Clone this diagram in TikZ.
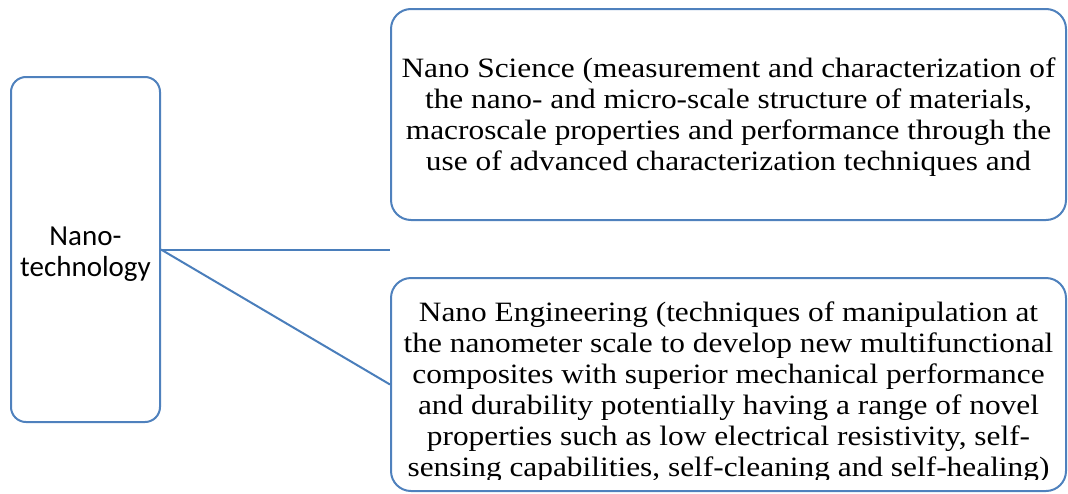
\documentclass[tikz,border=0pt]{standalone}
\usepackage{fontspec}
\newfontfamily\labelsans{Carlito}
\newfontfamily\bodyserif[FakeStretch=1.12]{Liberation Serif}
\usetikzlibrary{positioning}
\definecolor{boxblue}{HTML}{4F81BD}
\definecolor{linkblue}{HTML}{4A7EBB}

\begin{document}
\begin{tikzpicture}[
  x=1pt,y=-1pt,
  topic/.style={draw=boxblue,line width=2pt,rounded corners=15pt,inner sep=0pt},
  branch/.style={topic,rounded corners=20pt,minimum width=675pt},
  detail/.style={font=\bodyserif\fontsize{28}{31}\selectfont,align=center,inner sep=0pt},
  link/.style={draw=linkblue,line width=2pt}
]
  \useasboundingbox (0,0) rectangle (1068,493);

  \node[topic,minimum width=149pt,minimum height=345pt] (nano) at (85.5,249.5) {};
  \node[align=center,inner sep=0pt,font=\labelsans\fontsize{29}{31}\selectfont]
    (nanotext) at (85.5,254) {Nano-\\technology};

  \node[branch,minimum height=211pt] (sci) at (728.5,114.5) {};
  \node[detail] (scitext) at (728.5,117) {Nano Science (measurement and characterization of\\
    the nano- and micro-scale structure of materials,\\
    macroscale properties and performance through the\\
    use of advanced characterization techniques and};

  \node[branch,minimum height=213pt] (eng) at (728.5,384.5) {};
  \begin{scope}
    \clip (392,280) rectangle (1065,479);
    \node[detail] (engtext) at (728.5,392) {Nano Engineering (techniques of manipulation at\\
      the nanometer scale to develop new multifunctional\\
      composites with superior mechanical performance\\
      and durability potentially having a range of novel\\
      properties such as low electrical resistivity, self-\\
      sensing capabilities, self-cleaning and self-healing)};
  \end{scope}

  \coordinate (scistub) at (nano.east -| eng.west);
  \draw[link] (nano.east) -- (scistub);
  \draw[link] (nano.east) -- (eng.west);
\end{tikzpicture}
\end{document}
